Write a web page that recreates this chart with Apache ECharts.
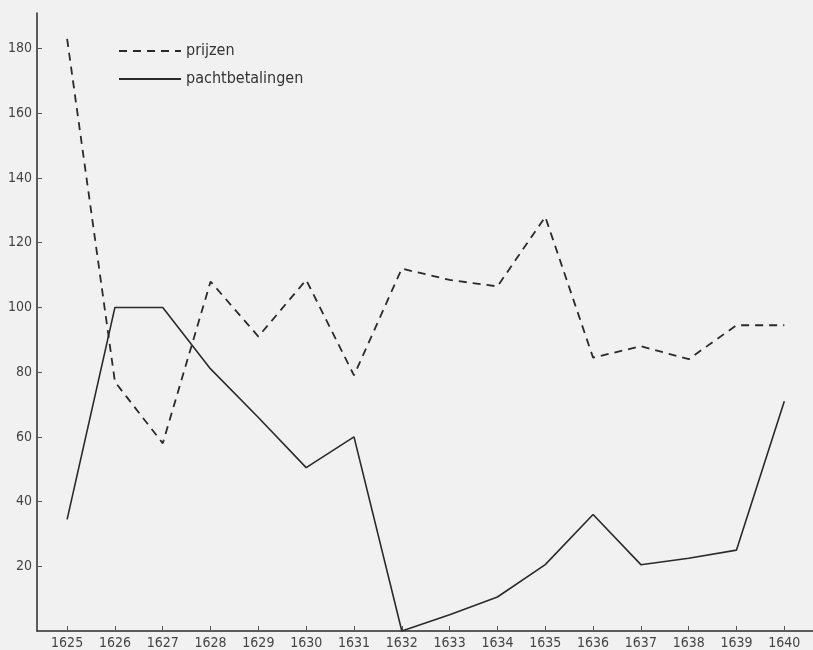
<!DOCTYPE html>
<html>
<head>
<meta charset="utf-8">
<script src="https://cdn.jsdelivr.net/npm/echarts@6/dist/echarts.min.js"></script>
<style>
  html, body { margin: 0; padding: 0; background: #f1f1f1; }
  #chart { width: 813px; height: 650px; }
</style>
</head>
<body>
<div id="chart"></div>
<script>
var years = [1625, 1626, 1627, 1628, 1629, 1630, 1631, 1632, 1633, 1634, 1635, 1636, 1637, 1638, 1639, 1640];
var prijzen = [183, 77, 58, 108, 91, 108.5, 79, 112, 108.5, 106.5, 128, 84.5, 88, 84, 94.5, 94.5];
var pachtbetalingen = [34.5, 100, 100, 81, 66, 50.5, 60, 0, 5, 10.5, 20.5, 36, 20.5, 22.5, 25, 71];
var yTicks = [20, 40, 60, 80, 100, 120, 140, 160, 180];

function pairs(vals) {
  return years.map(function (y, i) { return [y, vals[i]]; });
}

var ink = "#2a2a2a";
var font = "'DejaVu Sans Condensed', 'DejaVu Sans', sans-serif";

var chart = echarts.init(document.getElementById("chart"));
chart.setOption({
  backgroundColor: "#f1f1f1",
  animation: false,
  grid: { left: 37, top: 13, right: 0, bottom: 19, containLabel: false },
  legend: {
    orient: "vertical",
    left: 113,
    top: 38,
    itemWidth: 62,
    itemHeight: 14,
    itemGap: 12,
    itemStyle: { opacity: 0 },
    textStyle: { fontFamily: font, fontSize: 16, color: "#333" },
    data: ["prijzen", "pachtbetalingen"]
  },
  xAxis: {
    type: "value",
    min: 1624.37,
    max: 1640.6,
    splitLine: { show: false },
    axisLine: { lineStyle: { color: ink, width: 1.5 } },
    axisTick: { inside: true, length: 5, customValues: years, lineStyle: { color: "#555" } },
    axisLabel: {
      customValues: years,
      margin: 5,
      fontFamily: font,
      fontSize: 14,
      color: "#444",
      formatter: function (v) { return String(v); }
    }
  },
  yAxis: {
    type: "value",
    min: 0,
    max: 191,
    splitLine: { show: false },
    axisLine: { show: true, lineStyle: { color: ink, width: 1.5 } },
    axisTick: { show: true, inside: true, length: 5, customValues: yTicks, lineStyle: { color: "#555" } },
    axisLabel: { customValues: yTicks, margin: 5, fontFamily: font, fontSize: 14, color: "#444" }
  },
  series: [
    {
      name: "prijzen",
      type: "line",
      data: pairs(prijzen),
      symbol: "none",
      color: ink,
      lineStyle: { color: ink, width: 1.8, type: [8, 6] }
    },
    {
      name: "pachtbetalingen",
      type: "line",
      data: pairs(pachtbetalingen),
      symbol: "none",
      color: ink,
      lineStyle: { color: ink, width: 1.6, type: "solid" }
    }
  ]
});
</script>
</body>
</html>
